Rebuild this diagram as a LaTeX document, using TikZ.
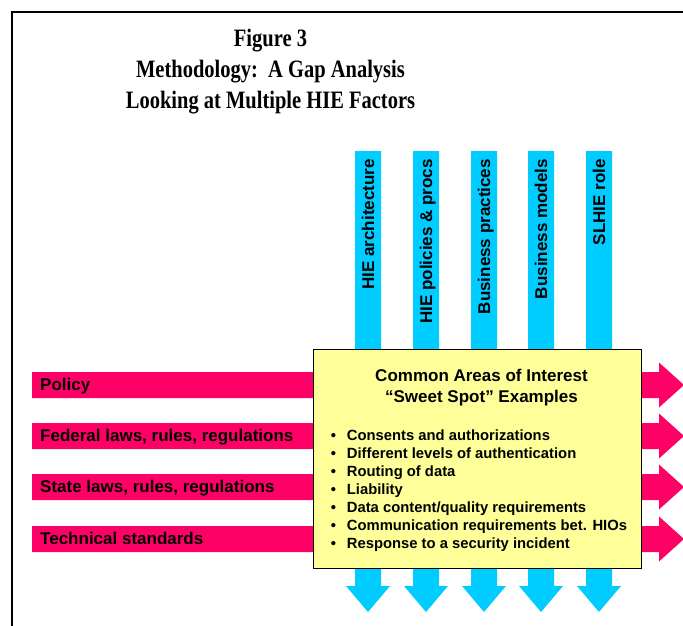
\documentclass[tikz,border=0pt]{standalone}
\usepackage{fontspec}
\setmainfont{Liberation Serif}
\setsansfont{Liberation Sans}
\newfontfamily\titlefont[FakeStretch=0.82]{Liberation Serif}
\usetikzlibrary{positioning}
\definecolor{hiecyan}{HTML}{00CCFF}
\definecolor{hiepink}{HTML}{FF0066}
\definecolor{hieyellow}{HTML}{FFFF99}

\begin{document}
\begin{tikzpicture}[x=1pt, y=-1pt,
	heading/.style={anchor=base, inner sep=0pt, font=\titlefont\bfseries\fontsize{25}{30}\selectfont},
	factor/.style={anchor=base west, inner sep=0pt, font=\sffamily\bfseries\fontsize{17}{20}\selectfont},
	topic/.style={anchor=base east, inner sep=0pt, rotate=90, font=\sffamily\bfseries\fontsize{17}{20}\selectfont},
	areahead/.style={anchor=base, inner sep=0pt, font=\sffamily\bfseries\fontsize{17}{20}\selectfont},
	areaitem/.style={anchor=base west, inner sep=0pt, font=\sffamily\bfseries\fontsize{14.8}{18}\selectfont}]
		\useasboundingbox (0,0) rectangle (683,626);
		\clip (0,0) rectangle (683,626);
		\draw[line width=2pt] (12,640) |- (700,12);

		% title
		\node[heading] (fig) at (270.5,46.7) {Figure 3};
		\node[heading] (method) at (270.5,77.5) {Methodology:\ \ A Gap Analysis};
		\node[heading] (looking) at (270.5,108.3) {Looking at Multiple HIE Factors};

		% pink arrows, left to right
		\foreach \y/\txt [count=\i] in {385/Policy, 436/{Federal laws, rules, regulations},
				487/{State laws, rules, regulations}, 539/Technical standards} {
			\fill[hiepink] (32,\y-13) -- (659,\y-13) -- (659,\y-22.5) -- (684,\y)
				-- (659,\y+22.5) -- (659,\y+13) -- (32,\y+13) -- cycle;
			\node[factor] (f\i) at (40,\y+5.5) {\txt};
		}

		% cyan arrows, top to bottom
		\foreach \x/\txt [count=\i] in {368/HIE architecture, 426/HIE policies \& procs,
				484/Business practices, 541/Business models, 599/SLHIE role} {
			\fill[hiecyan] (\x-13,151) -- (\x-13,586) -- (\x-22,586) -- (\x,612)
				-- (\x+22,586) -- (\x+13,586) -- (\x+13,151) -- cycle;
			\node[topic] (t\i) at (\x+6,159) {\txt};
		}

		% sweet spot box
		\node[draw, line width=0.8pt, fill=hieyellow, minimum width=328pt, minimum height=219pt] (box) at (477,458.5) {};
		\node[areahead] (areas) at (481.5,381.7) {Common Areas of Interest};
		\node[areahead] (sweet) at (481.5,402) {“Sweet Spot” Examples};
		\foreach \txt [count=\i] in {Consents and authorizations, Different levels of authentication,
				Routing of data, Liability, Data content/quality requirements,
				Communication requirements bet. HIOs, Response to a security incident} {
			\node[areaitem, anchor=base] (b\i) at (333.5,422.7+18*\i) {•};
			\node[areaitem] (e\i) at (346.7,422.7+18*\i) {\txt};
		}
		\end{tikzpicture}
\end{document}
